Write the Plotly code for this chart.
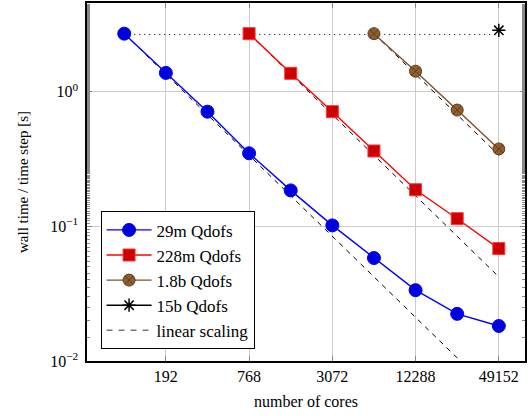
import plotly.graph_objects as go

# ---- data ----
cores_29m = [96, 192, 384, 768, 1536, 3072, 6144, 12288, 24576, 49152]
time_29m = [2.70, 1.38, 0.711, 0.349, 0.185, 0.1017, 0.0582, 0.0336, 0.0224, 0.0182]

cores_228m = [768, 1536, 3072, 6144, 12288, 24576, 49152]
time_228m = [2.70, 1.37, 0.711, 0.363, 0.187, 0.114, 0.0684]

cores_1p8b = [6144, 12288, 24576, 49152]
time_1p8b = [2.70, 1.42, 0.731, 0.376]

cores_15b = [49152]
time_15b = [2.86]

weak_cores = [96, 49152]
weak_time = [2.66, 2.66]

xtick_vals = [192, 768, 3072, 12288, 49152]
xtick_text = ["192", "768", "3072", "12288", "49152"]
ytick_vals = [0.01, 0.1, 1]
ytick_text = ["10<sup>\u22122</sup>", "10<sup>\u22121</sup>", "10<sup>0</sup>"]

FONT = "Liberation Serif"

fig = go.Figure()

# weak-scaling dotted reference
fig.add_trace(go.Scatter(x=weak_cores, y=weak_time, mode="lines",
                         line=dict(color="black", width=1, dash="1px,4px"),
                         showlegend=False, hoverinfo="skip"))

# linear scaling lines (ideal from first point of each series)
for cs, ts in [(cores_29m, time_29m), (cores_228m, time_228m), (cores_1p8b, time_1p8b)]:
    ideal = [ts[0] * cs[0] / c for c in cs]
    fig.add_trace(go.Scatter(x=cs, y=ideal, mode="lines",
                             line=dict(color="black", width=1, dash="5px,5px"),
                             showlegend=False, hoverinfo="skip"))

fig.add_trace(go.Scatter(x=cores_29m, y=time_29m, mode="lines+markers", name="29m Qdofs",
                         line=dict(color="#0000ff", width=1.4),
                         marker=dict(symbol="circle", size=13, color="#0000dd",
                                     line=dict(color="#0000ff", width=1))))
fig.add_trace(go.Scatter(x=cores_228m, y=time_228m, mode="lines+markers", name="228m Qdofs",
                         line=dict(color="#ff0000", width=1.4),
                         marker=dict(symbol="square", size=12, color="#cc0000",
                                     line=dict(color="#ff3333", width=1))))
fig.add_trace(go.Scatter(x=cores_1p8b, y=time_1p8b, mode="lines+markers", name="1.8b Qdofs",
                         line=dict(color="#7a5230", width=1.4),
                         marker=dict(symbol="circle-x", size=12, color="#8f5e30",
                                     line=dict(color="#5e3c1c", width=1))))
fig.add_trace(go.Scatter(x=cores_15b, y=time_15b, mode="lines+markers", name="15b Qdofs",
                         line=dict(color="black", width=1.4),
                         marker=dict(symbol="asterisk-open", size=11, color="black",
                                     line=dict(color="black", width=1.5))))
# legend entry for linear scaling
fig.add_trace(go.Scatter(x=[None], y=[None], mode="lines", name="linear scaling",
                         line=dict(color="#777777", width=1.4, dash="6px,6px")))

fig.update_layout(
    width=528, height=416,
    margin=dict(l=87, r=1, t=1, b=55),
    paper_bgcolor="white", plot_bgcolor="white",
    font=dict(family=FONT, size=16, color="black"),
    showlegend=True,
    legend=dict(x=0.031, y=0.0325, xanchor="left", yanchor="bottom",
                bordercolor="black", borderwidth=1, bgcolor="white",
                font=dict(family=FONT, size=17), itemwidth=45,
                tracegroupgap=0),
)
fig.update_xaxes(type="log", range=[1.713, 4.881],
                 tickvals=xtick_vals, ticktext=xtick_text,
                 ticks="inside", ticklen=5, tickcolor="#888888",
                 showgrid=True, gridcolor="#cccccc", gridwidth=1,
                 showline=True, linecolor="black", linewidth=1.5, mirror="ticks",
                 zeroline=False,
                 title=dict(text="number of cores", font=dict(family=FONT, size=16), standoff=12),
                 tickfont=dict(family=FONT, size=16))
fig.update_yaxes(type="log", range=[-2, 0.659],
                 tickvals=ytick_vals, ticktext=ytick_text,
                 ticks="inside", ticklen=5, tickcolor="#888888",
                 ticklabelstandoff=4,
                 minor=dict(ticks="inside", ticklen=3, tickcolor="#888888", showgrid=False),
                 showgrid=True, gridcolor="#cccccc", gridwidth=1,
                 showline=True, linecolor="black", linewidth=1.5, mirror="ticks",
                 zeroline=False,
                 title=dict(text="wall time / time step [s]", font=dict(family=FONT, size=15), standoff=18),
                 tickfont=dict(family=FONT, size=16))

fig.write_html("out.html", config={"displayModeBar": False},
               post_script="document.body.style.margin='0';document.body.style.padding='0';")
